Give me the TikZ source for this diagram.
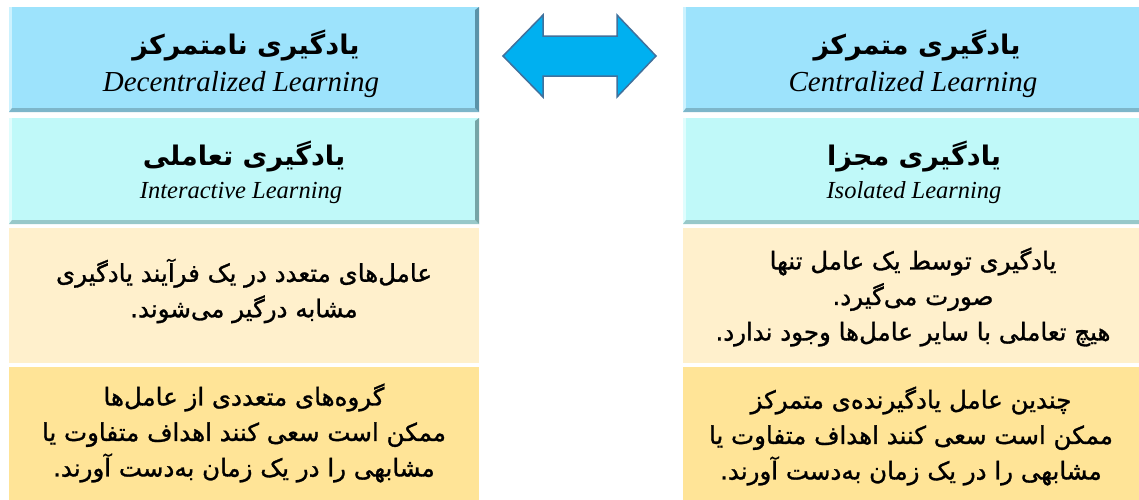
\documentclass[tikz,border=0pt]{standalone}
\usepackage{fontspec}
\setmainfont{Liberation Serif}
\newfontfamily\fa[Script=Arabic]{DejaVu Sans}
\newfontfamily\fabody[Script=Arabic,FakeBold=1.2]{DejaVu Sans}
\TeXXeTstate=1
\definecolor{hdrblue}{HTML}{9DE3FC}
\definecolor{hdrbluelt}{HTML}{CDF2FE}
\definecolor{hdrbluebot}{HTML}{7DB6CA}
\definecolor{hdrblueright}{HTML}{5B93A8}
\definecolor{hdrcyan}{HTML}{C0F9F9}
\definecolor{hdrcyanlt}{HTML}{E0FDFD}
\definecolor{hdrcyanbot}{HTML}{98C8C9}
\definecolor{hdrcyanright}{HTML}{76A5A6}
\definecolor{lightyel}{HTML}{FFF0CC}
\definecolor{deepyel}{HTML}{FFE497}
\definecolor{arrowfill}{HTML}{00B0F0}
\definecolor{arrowline}{HTML}{41719C}
\tikzset{
  boxbase/.style={draw=none, inner sep=0pt, anchor=north west},
  faHead/.style={font=\fa\bfseries\fontsize{27}{30}\selectfont, inner sep=0pt},
  enHeadA/.style={font=\itshape\fontsize{29}{32}\selectfont, inner sep=0pt},
  enHeadB/.style={font=\itshape\fontsize{24.5}{28}\selectfont, inner sep=0pt},
  faBody/.style={font=\fabody\fontsize{24.5}{35.5}\selectfont, align=center, inner sep=0pt},
}
\newcommand{\bevelbox}[9]{%
  % #1 name, #2 x1, #3 y1, #4 x2, #5 y2, #6 fill, #7 light, #8 bottom, #9 right
  \node[boxbase, fill=#6, minimum width=#4pt-#2pt, minimum height=#5pt-#3pt] (#1) at (#2,#3) {};
  \fill[#7] (#2,#3) rectangle ++(3,#5-#3);
  \fill[#8] (#2,#5) -- (#4,#5) -- (#4-4,#5-4) -- (#2+3,#5-4) -- cycle;
  \fill[#9] (#4,#3) -- (#4,#5) -- (#4-4,#5-4) -- (#4-4,#3+3) -- cycle;
}
\begin{document}
\begin{tikzpicture}[x=1pt,y=-1pt]
\useasboundingbox (0,0) rectangle (1139,499);
\fill[white] (0,0) rectangle (1139,499);
\begin{scope}
\clip (0,0) rectangle (1139,499);
% row 1
\bevelbox{h1l}{9}{7}{479}{112}{hdrblue}{hdrbluelt}{hdrbluebot}{hdrblueright}
\bevelbox{h1r}{683}{7}{1143}{112}{hdrblue}{hdrbluelt}{hdrbluebot}{hdrblueright}
% row 2
\bevelbox{h2l}{9}{118}{479}{224}{hdrcyan}{hdrcyanlt}{hdrcyanbot}{hdrcyanright}
\bevelbox{h2r}{683}{118}{1143}{224}{hdrcyan}{hdrcyanlt}{hdrcyanbot}{hdrcyanright}
% row 3
\node[boxbase, fill=lightyel, minimum width=470pt, minimum height=135pt] (b3l) at (9,228) {};
\node[boxbase, fill=lightyel, minimum width=460pt, minimum height=135pt] (b3r) at (683,228) {};
% row 4
\node[boxbase, fill=deepyel, minimum width=470pt, minimum height=135pt] (b4l) at (9,367) {};
\node[boxbase, fill=deepyel, minimum width=460pt, minimum height=135pt] (b4r) at (683,367) {};
\end{scope}
% texts
\node[faHead] (t1lfa) at (246,46) {\beginR یادگیری نامتمرکز\endR};
\node[enHeadA] (t1len) at (241,85) {Decentralized Learning};
\node[faHead] (t1rfa) at (917,46) {\beginR یادگیری متمرکز\endR};
\node[enHeadA] (t1ren) at (913,85) {Centralized Learning};
\node[faHead] (t2lfa) at (244,157) {\beginR یادگیری تعاملی\endR};
\node[enHeadB] (t2len) at (241,193) {Interactive Learning};
\node[faHead] (t2rfa) at (914,157) {\beginR یادگیری مجزا\endR};
\node[enHeadB] (t2ren) at (914,193) {Isolated Learning};
\node[faBody] (t3l) at (244,291) {\beginR عامل‌های متعدد در یک فرآیند یادگیری\endR\\\beginR مشابه درگیر می‌شوند.\endR};
\node[faBody] (t3r) at (913,297) {\beginR یادگیری توسط یک عامل تنها\endR\\\beginR صورت می‌گیرد.\endR\\\beginR هیچ تعاملی با سایر عامل‌ها وجود ندارد.\endR};
\node[faBody] (t4l) at (244,433) {\beginR گروه‌های متعددی از عامل‌ها\endR\\\beginR ممکن است سعی کنند اهداف متفاوت یا\endR\\\beginR مشابهی را در یک زمان به‌دست آورند.\endR};
\node[faBody] (t4r) at (911,436) {\beginR چندین عامل یادگیرنده‌ی متمرکز\endR\\\beginR ممکن است سعی کنند اهداف متفاوت یا\endR\\\beginR مشابهی را در یک زمان به‌دست آورند.\endR};
% double arrow
\draw[fill=arrowfill, draw=arrowline, line width=1.5pt, line join=miter]
  (503,56) -- (543,15) -- (543,36) -- (617,36) -- (617,15) -- (656,56)
  -- (617,97) -- (617,76) -- (543,76) -- (543,97) -- cycle;
\end{tikzpicture}
\end{document}
